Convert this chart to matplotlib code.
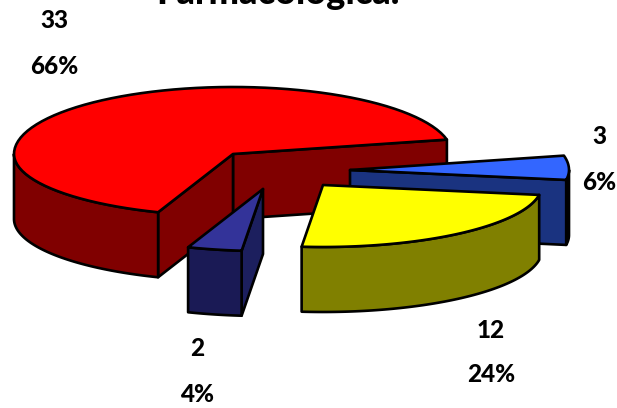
import numpy as np
import matplotlib
matplotlib.use('Agg')
import matplotlib.pyplot as plt
from matplotlib.patches import Polygon

# Valores de cada categoria
values = [33, 2, 12, 3]
percents = ['66%', '4%', '24%', '6%']
title = 'Farmacológica.'

# Cores: topo, lateral externa, parede do corte
top_colors = ['#FF0000', '#333399', '#FFFF00', '#3366FF']
side_colors = ['#800000', '#1A1A55', '#808000', '#000000']
wall_colors = ['#800000', '#1C1F5E', '#808000', '#1A3380']

# Vertice de cada fatia (explodida) e posicao dos rotulos, em pixels
apexes = [(233, 154), (263, 189), (323, 185), (350, 170)]
label_pos = [(54, 20, 66), (197, 348, 394), (491, 331, 375), (599, 137, 183)]

RX = 219
RY_BACK, RY_FRONT = 67, 62  # a elipse e mais achatada na frente
DEPTH = 65
START = 12.4
LW = 1.9


def arc_points(apex, t0, t1):
    t = np.radians(np.linspace(t0, t1, 80))
    ry = np.where(np.sin(t) >= 0, RY_BACK, RY_FRONT)
    return np.column_stack([apex[0] + RX * np.cos(t), apex[1] - ry * np.sin(t)])


def add_poly(ax, pts, color, z):
    ax.add_patch(Polygon(pts, closed=True, facecolor=color, edgecolor='black',
                         linewidth=LW, joinstyle='round', zorder=z))


def draw_wall(ax, apex, t, color, z):
    edge = arc_points(apex, t, t)[0]
    a = np.array(apex, dtype=float)
    d = np.array([0, DEPTH])
    add_poly(ax, [a, edge, edge + d, a + d], color, z)


def draw_outer(ax, apex, t0, t1, color, z):
    # So a parte do arco voltada para a frente (metade inferior da elipse)
    lo = max(t0, 180)
    hi = min(t1, 360)
    if hi <= lo:
        return
    arc = arc_points(apex, lo, hi)
    add_poly(ax, np.vstack([arc, arc[::-1] + [0, DEPTH]]), color, z)


def draw_slice(ax, i, t0, t1, z):
    apex = apexes[i]
    if i == 0:
        # fatia grande: as duas paredes do corte ficam visiveis
        draw_wall(ax, apex, t0, wall_colors[i], z)
        draw_wall(ax, apex, t1, wall_colors[i], z + 0.1)
    elif i == 1:
        draw_wall(ax, apex, t1, wall_colors[i], z + 0.1)
    elif i == 3:
        draw_wall(ax, apex, t0, wall_colors[i], z + 0.2)
    draw_outer(ax, apex, t0, t1, side_colors[i], z + 0.1)
    add_poly(ax, np.vstack([[apex], arc_points(apex, t0, t1)]), top_colors[i], z + 0.3)


fig = plt.figure(figsize=(6.17, 4.08), dpi=100)
ax = fig.add_axes([0, 0, 1, 1])
ax.set_xlim(0, 617)
ax.set_ylim(408, 0)
ax.axis('off')

spans = np.array(values) / sum(values) * 360
starts = START + np.concatenate([[0], np.cumsum(spans)[:-1]])
order = [0, 3, 1, 2]  # de tras para a frente
for z, i in enumerate(order):
    draw_slice(ax, i, starts[i], starts[i] + spans[i], z + 1)

font = dict(family='Lato', weight='black', color='black', ha='center', va='center', zorder=10)
for v, p, (x, y1, y2) in zip(values, percents, label_pos):
    ax.text(x, y1, str(v), fontsize=17.5, **font)
    ax.text(x, y2, p, fontsize=17.5, **font)

ax.text(278, 4, title, fontsize=26, family='Lato', weight='black', ha='center', va='baseline')

fig.savefig('out.png', dpi=100)
